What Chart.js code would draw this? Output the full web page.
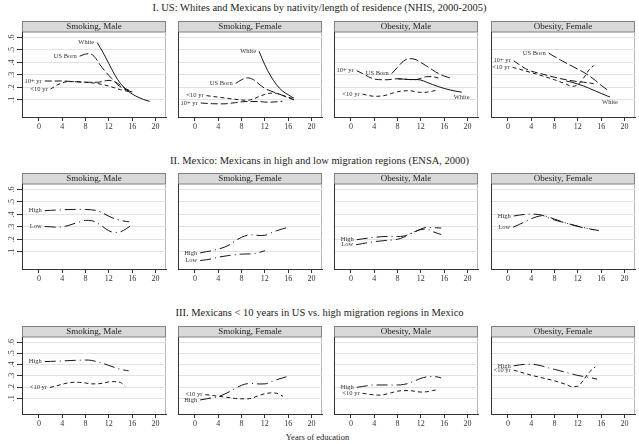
<!DOCTYPE html>
<html>
<head>
<meta charset="utf-8">
<script src="https://cdn.jsdelivr.net/npm/chart.js@4.4.1/dist/chart.umd.min.js"></script>
<style>
  body { margin: 0; background: #fff; width: 639px; height: 444px; position: relative; overflow: hidden;
         font-family: "Liberation Serif", serif; color: #222; }
  .title { position: absolute; left: 0; width: 639px; text-align: center; font-size: 10.5px; line-height: 12px; white-space: nowrap; }
  .panel { position: absolute; }
  #xlabel { position: absolute; left: -2px; width: 639px; text-align: center; font-size: 8.5px; line-height: 10px; }
</style>
</head>
<body>
<script>
// axis ticks and texts
const xTicks = [0, 4, 8, 12, 16, 20];
const yTicks = [0.1, 0.2, 0.3, 0.4, 0.5, 0.6];
const yTickLabels = ['.1', '.2', '.3', '.4', '.5', '.6'];
const rowTitles = [
  'I. US: Whites and Mexicans by nativity/length of residence (NHIS, 2000-2005)',
  'II. Mexico: Mexicans in high and low migration regions (ENSA, 2000)',
  'III. Mexicans < 10 years in US vs. high migration regions in Mexico'
];
const panelTitles = ['Smoking, Male', 'Smoking, Female', 'Obesity, Male', 'Obesity, Female'];
const xTitle = 'Years of education';

// row I - smoking, male  [years, share]
const smkMaleWhite = [[10,.56],[11,.48],[12,.39],[13,.30],[14,.23],[15,.18],[16,.145],[17,.12],[18,.10],[19,.086]];
const smkMaleUSBorn = [[7,.45],[7.8,.465],[8.5,.47],[9.2,.46],[9.8,.43],[10.5,.38],[11.5,.32],[12.5,.27],[13.5,.22],[14.5,.19],[16,.16]];
const smkMale10plus = [[1,.25],[4,.25],[6,.245],[8,.24],[10,.24],[12,.255],[13,.245],[14,.215],[15,.185],[16,.165]];
const smkMaleUnder10 = [[2,.185],[3,.215],[4,.235],[5,.245],[6,.245],[8,.24],[10,.23],[11.5,.215],[13,.195],[14,.18],[15.5,.165]];
// row I - smoking, female
const smkFemWhite = [[11,.49],[12,.38],[13,.29],[14,.22],[15,.17],[16,.14],[17,.11]];
const smkFemUSBorn = [[7,.23],[8,.26],[9,.275],[10,.262],[11,.225],[12,.19],[13,.17],[14,.152],[15,.135],[16,.115],[17,.098]];
const smkFemUnder10 = [[2,.132],[4,.12],[6,.108],[8,.097],[9,.095],[10,.105],[11,.125],[12,.142],[13,.152],[14,.15],[15,.135],[16,.12],[17,.105]];
const smkFem10plus = [[1,.073],[3,.067],[5,.066],[7,.076],[9,.085],[11,.085],[12,.08],[13,.08],[15,.087]];
// row I - obesity, male
const obMale10plus = [[1,.333],[2,.31],[3,.285],[4,.266],[6,.26],[8,.268],[10,.262],[11,.26],[12,.272],[13,.285],[14,.285],[15,.274]];
const obMaleUSBorn = [[7,.31],[8,.36],[9,.41],[10,.43],[11,.425],[12,.40],[13,.37],[14,.34],[15,.31],[16,.29],[17,.275]];
const obMaleWhite = [[8,.268],[9,.265],[10,.262],[11,.262],[12,.258],[13,.24],[14,.222],[15,.205],[16,.19],[17,.178],[18,.168],[19,.16]];
const obMaleUnder10 = [[2,.145],[3,.133],[4,.127],[5,.128],[6,.135],[7,.15],[8,.163],[9,.17],[10,.172],[11,.165],[12,.158],[13,.16],[14,.168],[15,.18]];
// row I - obesity, female
const obFemUSBorn = [[7,.474],[9,.42],[11,.37],[12,.345],[13,.32],[14,.29],[15,.255],[16,.215],[17,.18]];
const obFem10plus = [[1,.413],[2,.38],[3,.35],[4,.33],[6,.305],[8,.28],[10,.26],[12,.245],[13,.24],[14,.235],[14.7,.228]];
const obFemUnder10 = [[0.8,.36],[2,.345],[4,.318],[6,.29],[8,.26],[10,.225],[11,.207],[12,.22],[13,.275],[14,.345],[14.7,.373]];
const obFemWhite = [[10,.25],[11,.24],[12,.225],[13,.21],[14,.19],[15,.17],[16,.15],[17,.13],[17.5,.122]];

// row II - Mexico, high vs low migration regions
const mxSmkMaleHigh = [[1,.43],[2,.433],[4,.437],[6,.44],[8,.44],[9,.437],[10,.43],[11,.41],[12,.385],[13,.365],[14,.352],[15,.343],[15.5,.34]];
const mxSmkMaleLow = [[1,.302],[2,.3],[3,.297],[4,.3],[5,.31],[6,.325],[7,.34],[8,.352],[9,.35],[10,.33],[11,.3],[12,.268],[13,.255],[14,.26],[15,.285],[15.7,.307]];
const mxSmkFemHigh = [[0.9,.09],[2,.1],[3,.108],[4,.12],[5,.135],[6,.157],[7,.19],[8,.215],[9,.232],[10,.235],[11,.23],[12,.232],[13,.25],[14,.268],[15,.283],[15.8,.294]];
const mxSmkFemLow = [[0.9,.028],[2,.035],[3,.043],[4,.055],[6,.07],[8,.08],[10,.083],[11,.092],[12,.108]];
const mxObMaleHigh = [[1,.196],[2,.203],[4,.215],[6,.222],[8,.222],[9,.225],[10,.24],[11,.26],[12,.282],[13,.295],[14,.293],[15.5,.29]];
const mxObMaleLow = [[0.9,.156],[2,.165],[4,.18],[6,.19],[8,.2],[9,.215],[10,.24],[11,.262],[12,.278],[13,.282],[14,.262],[15,.245],[15.5,.238]];
const mxObFemHigh = [[1,.387],[2,.395],[3,.4],[4,.403],[5,.4],[6,.392],[7,.372],[8,.355],[10,.33],[12,.303],[14,.283],[15.6,.27]];
const mxObFemLow = [[0.9,.297],[2,.32],[3,.343],[4,.365],[5,.382],[6,.39],[7,.378],[8,.362],[10,.33],[12,.305],[14,.283],[14.7,.276]];

// row III - recent migrants in US vs high migration regions
const rcSmkMaleHigh = [[1,.426],[2,.428],[4,.432],[6,.437],[8,.44],[9,.437],[10,.425],[11,.41],[12,.392],[13,.374],[14,.358],[15,.347],[15.4,.344]];
const rcSmkMaleUnder10 = [[1.9,.197],[3,.21],[4,.225],[5,.237],[6,.242],[7,.241],[8,.236],[9,.228],[10,.228],[11,.235],[12,.246],[13,.248],[14,.24],[14.8,.206]];
const rcSmkFemHigh = [[0.9,.085],[2,.095],[3,.105],[4,.115],[5,.135],[6,.16],[7,.19],[8,.215],[9,.23],[10,.232],[11,.227],[12,.228],[13,.245],[14,.265],[15,.28],[15.7,.291]];
const rcSmkFemUnder10 = [[1.8,.132],[3,.125],[4,.118],[5,.112],[6,.105],[7,.098],[8,.095],[9,.095],[10,.105],[11,.125],[12,.14],[13,.148],[14,.145],[15.1,.118]];
const rcObMaleHigh = [[1,.197],[2,.205],[4,.218],[6,.218],[8,.218],[9,.222],[10,.235],[11,.255],[12,.277],[13,.29],[14,.294],[15,.288],[15.5,.28]];
const rcObMaleUnder10 = [[2,.144],[3,.137],[4,.13],[5,.128],[6,.136],[7,.15],[8,.163],[9,.168],[10,.168],[11,.162],[12,.155],[13,.158],[14,.168],[14.9,.176]];
const rcObFemHigh = [[1,.388],[2,.397],[3,.402],[4,.403],[5,.397],[6,.385],[7,.37],[8,.357],[10,.33],[12,.303],[14,.285],[15.3,.27]];
const rcObFemUnder10 = [[1,.35],[2,.335],[4,.305],[6,.28],[8,.255],[10,.222],[11,.203],[12,.208],[13,.265],[14,.335],[15,.379]];

const dashes = { solid: [], usborn: [9, 3], tenplus: [7, 3], under10: [4, 3], region: [11, 4, 1, 4] };

const panels = [
  { row: 0, col: 0, series: [['White', smkMaleWhite, 'solid'], ['US Born', smkMaleUSBorn, 'usborn'], ['10+ yr', smkMale10plus, 'tenplus'], ['<10 yr', smkMaleUnder10, 'under10']] },
  { row: 0, col: 1, series: [['White', smkFemWhite, 'solid'], ['US Born', smkFemUSBorn, 'usborn'], ['<10 yr', smkFemUnder10, 'under10'], ['10+ yr', smkFem10plus, 'tenplus']] },
  { row: 0, col: 2, series: [['10+ yr', obMale10plus, 'tenplus'], ['US Born', obMaleUSBorn, 'usborn'], ['White', obMaleWhite, 'solid', 'end'], ['<10 yr', obMaleUnder10, 'under10']] },
  { row: 0, col: 3, series: [['US Born', obFemUSBorn, 'usborn'], ['10+ yr', obFem10plus, 'tenplus'], ['<10 yr', obFemUnder10, 'under10'], ['White', obFemWhite, 'solid', 'end']] },
  { row: 1, col: 0, series: [['High', mxSmkMaleHigh, 'region'], ['Low', mxSmkMaleLow, 'region']] },
  { row: 1, col: 1, series: [['High', mxSmkFemHigh, 'region'], ['Low', mxSmkFemLow, 'region']] },
  { row: 1, col: 2, series: [['High', mxObMaleHigh, 'region'], ['Low', mxObMaleLow, 'region']] },
  { row: 1, col: 3, series: [['High', mxObFemHigh, 'region'], ['Low', mxObFemLow, 'region']] },
  { row: 2, col: 0, series: [['High', rcSmkMaleHigh, 'region'], ['<10 yr', rcSmkMaleUnder10, 'under10']] },
  { row: 2, col: 1, series: [['High', rcSmkFemHigh, 'region'], ['<10 yr', rcSmkFemUnder10, 'under10']] },
  { row: 2, col: 2, series: [['High', rcObMaleHigh, 'region'], ['<10 yr', rcObMaleUnder10, 'under10']] },
  { row: 2, col: 3, series: [['High', rcObFemHigh, 'region'], ['<10 yr', rcObFemUnder10, 'under10']] }
];

// page layout (px)
const colLeft = [22, 178, 334, 491];
const plotW = 144;
const stripH = 11;
const xAxisH = 16;
const rowBox = [
  { top: 21, bottom: 117, title: 1.5 },
  { top: 173, bottom: 269, title: 155 },
  { top: 326, bottom: 414, title: 307 }
];
const SERIF = '"Liberation Serif", "Times New Roman", serif';

const stripPlugin = {
  id: 'strip',
  beforeDraw(chart, args, opts) {
    const { ctx, chartArea: a } = chart;
    ctx.save();
    ctx.fillStyle = '#d9d9d9';
    ctx.fillRect(a.left, a.top - stripH, a.right - a.left, stripH);
    ctx.strokeStyle = '#808080';
    ctx.lineWidth = 1;
    ctx.strokeRect(a.left + 0.5, a.top - stripH + 0.5, a.right - a.left - 1, stripH - 0.5);
    ctx.fillStyle = '#1e1e1e';
    ctx.font = '9px ' + SERIF;
    ctx.textAlign = 'center';
    ctx.textBaseline = 'middle';
    ctx.fillText(opts.text, (a.left + a.right) / 2, a.top - stripH / 2 + 0.5);
    // light frame on the right
    ctx.strokeStyle = '#b8b8b8';
    ctx.beginPath();
    ctx.moveTo(a.right - 0.5, a.top);
    ctx.lineTo(a.right - 0.5, a.bottom);
    ctx.stroke();
    ctx.restore();
  },
  afterDatasetsDraw(chart) {
    const ctx = chart.ctx;
    ctx.save();
    ctx.font = '6.5px ' + SERIF;
    ctx.fillStyle = '#333';
    chart.data.datasets.forEach((ds, i) => {
      const pts = chart.getDatasetMeta(i).data;
      if (ds.tagAt === 'end') {
        const p = pts[pts.length - 1];
        ctx.textAlign = 'center';
        ctx.textBaseline = 'top';
        ctx.fillText(ds.label, p.x, p.y + 2);
      } else {
        const p = pts[0];
        ctx.textAlign = 'right';
        ctx.textBaseline = 'middle';
        ctx.fillText(ds.label, p.x - 3, p.y);
      }
    });
    ctx.restore();
  }
};

rowTitles.forEach((t, r) => {
  const d = document.createElement('div');
  d.className = 'title';
  d.style.top = rowBox[r].title + 'px';
  d.textContent = t;
  document.body.appendChild(d);
});
const xl = document.createElement('div');
xl.id = 'xlabel';
xl.style.top = '432px';
xl.textContent = xTitle;
document.body.appendChild(xl);

panels.forEach(p => {
  const box = rowBox[p.row];
  const first = p.col === 0;
  const yW = first ? 22 : 0;
  const padL = first ? 0 : 2;
  const wrap = document.createElement('div');
  wrap.className = 'panel';
  wrap.style.left = (colLeft[p.col] - yW - padL) + 'px';
  wrap.style.top = box.top + 'px';
  wrap.style.width = (yW + padL + plotW + 2) + 'px';
  wrap.style.height = (box.bottom - box.top + xAxisH) + 'px';
  const canvas = document.createElement('canvas');
  wrap.appendChild(canvas);
  document.body.appendChild(wrap);

  new Chart(canvas, {
    type: 'line',
    data: {
      datasets: p.series.map(([name, pts, style, tagAt]) => ({
        label: name,
        tagAt: tagAt,
        data: pts.map(([x, y]) => ({ x, y })),
        borderColor: '#151515',
        borderWidth: 1,
        borderDash: dashes[style],
        pointRadius: 0,
        fill: false,
        tension: 0.4,
        cubicInterpolationMode: 'monotone'
      }))
    },
    options: {
      responsive: true,
      maintainAspectRatio: false,
      animation: false,
      events: [],
      layout: { padding: { top: stripH, left: padL, right: 2, bottom: 0 } },
      plugins: {
        legend: { display: false },
        tooltip: { enabled: false },
        strip: { text: panelTitles[p.col] }
      },
      scales: {
        x: {
          type: 'linear',
          min: -2.9,
          max: 21.8,
          afterBuildTicks: s => { s.ticks = xTicks.map(v => ({ value: v })); },
          afterFit: s => { s.height = xAxisH; },
          border: { color: '#333' },
          grid: { drawOnChartArea: false, tickColor: '#333', tickLength: 4 },
          ticks: { autoSkip: false, maxRotation: 0, padding: 1, color: '#333',
                   font: { family: SERIF, size: 8 } }
        },
        y: {
          type: 'linear',
          min: -0.04,
          max: 0.645,
          afterBuildTicks: s => { s.ticks = yTicks.map(v => ({ value: v })); },
          afterFit: s => { s.width = yW; },
          border: { color: '#333' },
          grid: { color: '#e2e2e2', tickColor: '#333', tickLength: 5, drawTicks: first },
          ticks: { display: first, minRotation: 90, maxRotation: 90, crossAlign: 'center', padding: 2,
                   color: '#333', font: { family: SERIF, size: 8 },
                   callback: (v, i) => yTickLabels[i] }
        }
      }
    },
    plugins: [stripPlugin]
  });
});
</script>
</body>
</html>
